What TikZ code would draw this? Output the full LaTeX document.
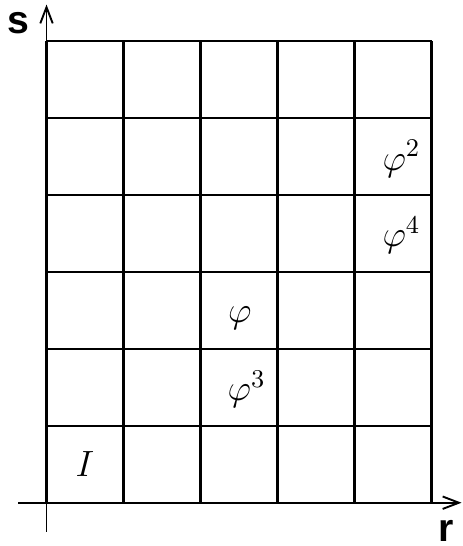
\documentclass[tikz,border=0pt]{standalone}
\usepackage{fix-cm}
\usepackage{fontspec}
\setsansfont{Liberation Sans}
\usetikzlibrary{arrows.meta}

\begin{document}
\begin{tikzpicture}[
  x=1cm, y=1cm,
  >={Straight Barb[length=6pt, width=4.6pt]},
  cellline/.style={line width=0.8pt, draw=black},
  axis/.style={->, line width=0.7pt, draw=black},
  elem/.style={anchor=base, inner sep=0pt, font=\fontsize{13.5}{16}\selectfont},
  axlab/.style={anchor=base, inner sep=0pt, font=\fontsize{14.5}{17}\selectfont\sffamily\bfseries},
]
\useasboundingbox (-0.604,-0.562) rectangle (5.396,6.529);

% ---------------------------------------------------------------- grid
\draw[cellline] (0,0) grid (5,6);

% ---------------------------------------------------------------- axes
\coordinate (rstart) at (-0.37,0);
\coordinate (rend) at (5.39,0);
\coordinate (sstart) at (0,-0.375);
\coordinate (send) at (0,6.47);
\draw[axis] (rstart) -- (rend);
\draw[axis] (sstart) -- (send);
\node[axlab] (rlab) at (5.19,-0.506) {r};
\node[axlab] (slab) at (-0.37,6.10) {s};

% ---------------------------------------------------------------- elements
\node[elem] (id)   at (0.50,0.347) {$I$};
\node[elem] (phi)  at (2.51,2.342) {$\varphi$};
\node[elem] (phi3) at (2.60,1.329) {$\varphi^3$};
\node[elem] (phi4) at (4.61,3.330) {$\varphi^4$};
\node[elem] (phi2) at (4.61,4.318) {$\varphi^2$};
\end{tikzpicture}
\end{document}
